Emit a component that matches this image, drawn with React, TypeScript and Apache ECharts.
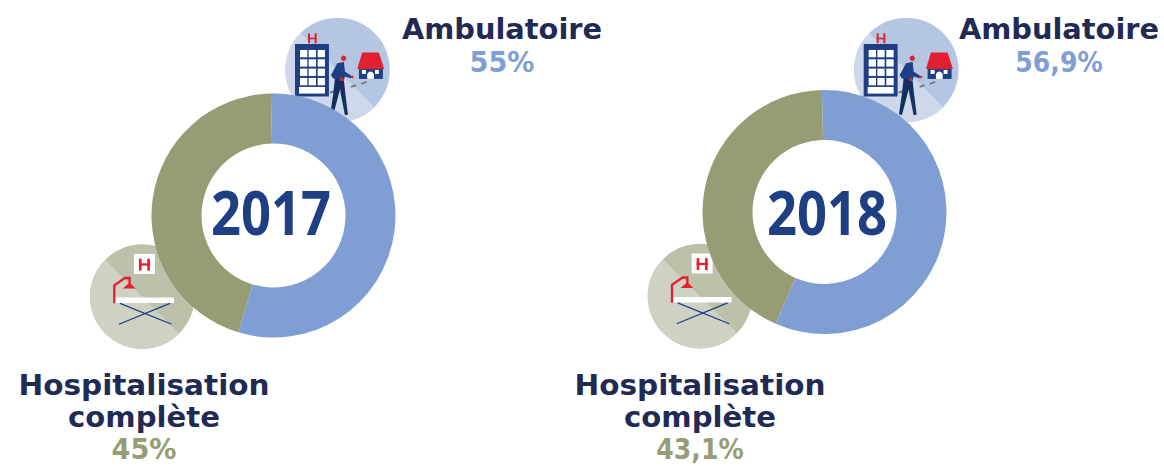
import React, { useEffect, useRef } from "react";
import * as echarts from "echarts";

const years = ["2017", "2018"];
const categories = ["Ambulatoire", "Hospitalisation complète"];
const ambulatoire = [55, 56.9];
const hospitalisation = [45, 43.1];
const ambulatoireLabels = ["55%", "56,9%"];
const hospitalisationLabels = ["45%", "43,1%"];

const BLUE = "#7f9fd4";
const OLIVE = "#969c74";
const NAVY = "#1f2b55";
const ROYAL = "#1f3f85";
const RED = "#e2202f";
const FONT = "'DejaVu Sans', sans-serif";
const NUM_FONT = "'Open Sans', sans-serif";

const layouts = [
  { cx: 273.5, cy: 215.5, yearX: 271, yearY: 212, ambX: 502, hospX: 144, ambIcon: [280, 10], hospIcon: [85, 240], pctScale: 0.97 },
  { cx: 824.5, cy: 212, yearX: 827, yearY: 212, ambX: 1059, hospX: 700, ambIcon: [848.7, 10], hospIcon: [642.7, 239.5], pctScale: 0.9 },
];

const rect = (x: number, y: number, width: number, height: number, fill: string) => ({
  type: "rect", shape: { x, y, width, height }, style: { fill },
});
const poly = (points: number[][], fill: string) => ({
  type: "polygon", shape: { points }, style: { fill },
});
const stroke = (points: number[][], color: string, lineWidth: number) => ({
  type: "polyline", shape: { points }, style: { stroke: color, lineWidth, fill: "none" },
});
const disc = (cx: number, cy: number, r: number, base: string, light: string) => [
  { type: "circle", shape: { cx, cy, r }, style: { fill: base } },
  {
    type: "sector",
    shape: { cx, cy, r0: 0, r, startAngle: Math.PI / 4, endAngle: (5 * Math.PI) / 4, clockwise: true },
    style: { fill: light },
  },
];

function ambIcon(pos: number[]) {
  const windows: any[] = [];
  [120, 148, 176, 204].forEach((y) =>
    [60, 86, 113].forEach((x) => windows.push(rect(x, y, 22, 22, "#fff")))
  );
  return {
    type: "group", x: pos[0], y: pos[1], scaleX: 1 / 3, scaleY: 1 / 3, z: 10,
    children: [
      ...disc(173, 180, 157, "#b5c6e3", "#cdd8eb"),
      rect(45, 102, 102, 158, ROYAL),
      ...windows,
      rect(57, 231, 78, 20, "#fff"),
      rect(84, 70, 6, 30, RED), rect(104, 70, 6, 30, RED), rect(84, 83, 26, 5, RED),
      stroke([[150, 248], [162, 245]], "#77787b", 6),
      stroke([[213, 231], [228, 226]], "#77787b", 6),
      stroke([[244, 222], [260, 216]], "#77787b", 6),
      poly([[247, 128], [297, 128], [313, 177], [232, 177]], RED),
      rect(237, 177, 72, 30, ROYAL),
      rect(246, 180, 12, 12, "#fff"), rect(285, 180, 12, 12, "#fff"),
      rect(262, 193, 20, 14, "#fff"),
      { type: "circle", shape: { cx: 272, cy: 195, r: 10 }, style: { fill: "#fff" } },
      { type: "circle", shape: { cx: 191, cy: 145, r: 8 }, style: { fill: RED } },
      poly([[172, 160], [192, 156], [195, 185], [215, 198], [213, 205], [195, 200], [192, 212], [160, 206], [153, 196]], ROYAL),
      poly([[165, 205], [190, 210], [177, 250], [160, 315], [151, 313], [160, 250]], "#14305f"),
      poly([[178, 212], [192, 212], [196, 250], [204, 314], [195, 316], [182, 250]], "#14305f"),
      rect(181, 203, 9, 10, RED),
      { type: "circle", shape: { cx: 217, cy: 201, r: 4 }, style: { fill: RED } },
    ],
  };
}

function hospIcon(pos: number[]) {
  return {
    type: "group", x: pos[0], y: pos[1], scaleX: 1 / 3, scaleY: 1 / 3, z: 10,
    children: [
      ...disc(172, 170, 157, "#bcc1aa", "#cfd1c2"),
      rect(147, 42, 63, 60, "#fff"),
      rect(162, 56, 8, 36, RED), rect(187, 56, 8, 36, RED), rect(162, 70, 33, 7, RED),
      stroke([[88, 190], [88, 136], [120, 114], [134, 114], [134, 135]], RED, 7),
      poly([[114, 146], [152, 146], [134, 128]], RED),
      rect(92, 173, 175, 16, "#fff"),
      stroke([[105, 190], [260, 253]], ROYAL, 4),
      stroke([[255, 190], [102, 253]], ROYAL, 4),
    ],
  };
}

const label = (x: number, y: number, text: string, fill: string, size = 28, font = FONT, scaleX = 1) => ({
  type: "text", x, y, z: 11, scaleX,
  style: { text, x: 0, y: 0, fill, font: `700 ${size}px ${font}`, align: "center", verticalAlign: "middle" },
});

export default function App() {
  const ref = useRef<HTMLDivElement>(null);
  useEffect(() => {
    document.body.style.margin = "0";
    const chart = echarts.init(ref.current!, null, { renderer: "svg" });
    chart.setOption({
      animation: false,
      backgroundColor: "#fff",
      series: layouts.map((l, i) => ({
        type: "pie",
        name: years[i],
        center: [l.cx, l.cy],
        radius: [72, 122],
        startAngle: 91.2,
        clockwise: true,
        silent: true,
        label: { show: false },
        labelLine: { show: false },
        data: [
          { name: categories[0], value: ambulatoire[i], itemStyle: { color: BLUE } },
          { name: categories[1], value: hospitalisation[i], itemStyle: { color: OLIVE } },
        ],
      })),
      graphic: layouts.flatMap((l, i) => [
        ambIcon(l.ambIcon),
        hospIcon(l.hospIcon),
        label(l.yearX, l.yearY, years[i], ROYAL, 60, NUM_FONT, 0.875),
        label(l.ambX, 30, categories[0], NAVY, 28, FONT, 1.03),
        label(l.ambX, 62, ambulatoireLabels[i], BLUE, 28, FONT, l.pctScale),
        label(l.hospX, 385, "Hospitalisation", NAVY, 28, FONT, 1.055),
        label(l.hospX, 417, "complète", NAVY, 28, FONT, 1.04),
        label(l.hospX, 449, hospitalisationLabels[i], OLIVE, 28, FONT, l.pctScale),
      ]),
    });
    return () => chart.dispose();
  }, []);
  return <div ref={ref} style={{ width: 1164, height: 466 }} />;
}
